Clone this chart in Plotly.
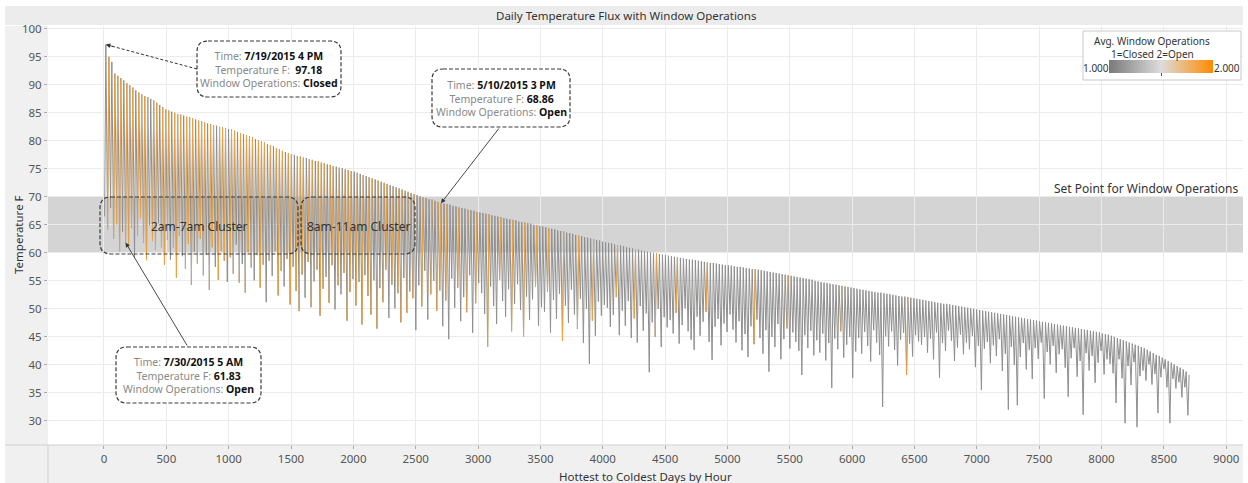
import plotly.graph_objects as go

# Daily max / min temperature (F), days sorted hottest -> coldest
daily_high = [
    97.18, 95.0, 94.1, 92.0, 91.6, 91.2, 90.8, 90.3, 89.9, 89.5, 89.0, 88.6, 88.3, 88.0, 87.8, 87.5, 87.2, 86.8, 86.4, 86.0, 85.6,
    85.4, 85.2, 85.0, 84.8, 84.7, 84.5, 84.3, 84.2, 84.0, 83.8, 83.6, 83.5, 83.3, 83.1, 83.0, 82.8, 82.7, 82.5, 82.4, 82.3, 82.1,
    82.0, 81.8, 81.6, 81.4, 81.2, 81.0, 80.8, 80.6, 80.3, 80.1, 79.9, 79.7, 79.4, 79.2, 79.0, 78.7, 78.5, 78.2, 78.0, 77.8, 77.6,
    77.5, 77.3, 77.2, 77.0, 76.9, 76.7, 76.6, 76.4, 76.3, 76.1, 76.0, 75.8, 75.7, 75.5, 75.4, 75.2, 75.1, 74.9, 74.8, 74.6, 74.5,
    74.3, 74.1, 73.9, 73.7, 73.5, 73.3, 73.1, 72.9, 72.7, 72.5, 72.3, 72.1, 71.9, 71.7, 71.5, 71.3, 71.1, 70.9, 70.7, 70.5, 70.3,
    70.1, 69.9, 69.8, 69.6, 69.5, 69.3, 69.1, 68.86, 68.8, 68.7, 68.6, 68.4, 68.3, 68.1, 68.0, 67.9, 67.7, 67.6, 67.5, 67.3, 67.2,
    67.1, 67.0, 66.9, 66.7, 66.6, 66.5, 66.4, 66.2, 66.1, 66.0, 65.9, 65.8, 65.6, 65.5, 65.4, 65.3, 65.2, 65.0, 64.9, 64.8, 64.7,
    64.6, 64.4, 64.3, 64.2, 64.0, 63.9, 63.8, 63.6, 63.5, 63.4, 63.2, 63.1, 63.0, 62.8, 62.7, 62.6, 62.4, 62.3, 62.2, 62.0, 61.9,
    61.8, 61.7, 61.5, 61.4, 61.3, 61.2, 61.0, 60.9, 60.8, 60.7, 60.6, 60.4, 60.3, 60.2, 60.1, 60.0, 59.9, 59.8, 59.7, 59.6, 59.5,
    59.4, 59.3, 59.2, 59.1, 59.0, 58.9, 58.8, 58.8, 58.7, 58.6, 58.5, 58.4, 58.3, 58.2, 58.2, 58.1, 58.0, 57.9, 57.8, 57.8, 57.7,
    57.6, 57.5, 57.5, 57.4, 57.3, 57.2, 57.1, 57.1, 57.0, 56.9, 56.8, 56.7, 56.6, 56.5, 56.4, 56.3, 56.2, 56.1, 56.0, 55.9, 55.8,
    55.7, 55.6, 55.5, 55.4, 55.3, 55.2, 55.0, 54.9, 54.8, 54.7, 54.6, 54.5, 54.4, 54.3, 54.2, 54.1, 54.0, 53.9, 53.8, 53.7, 53.6,
    53.5, 53.4, 53.3, 53.2, 53.1, 53.0, 52.9, 52.9, 52.8, 52.7, 52.6, 52.5, 52.4, 52.3, 52.2, 52.2, 52.1, 52.0, 51.9, 51.8, 51.7,
    51.6, 51.5, 51.4, 51.3, 51.2, 51.1, 51.0, 50.9, 50.9, 50.8, 50.7, 50.6, 50.5, 50.4, 50.3, 50.2, 50.1, 50.0, 49.9, 49.8, 49.7,
    49.6, 49.5, 49.4, 49.3, 49.2, 49.1, 49.0, 48.9, 48.8, 48.7, 48.6, 48.5, 48.4, 48.3, 48.2, 48.1, 48.0, 47.9, 47.8, 47.7, 47.6,
    47.5, 47.4, 47.3, 47.2, 47.1, 47.0, 46.9, 46.8, 46.7, 46.6, 46.5, 46.4, 46.3, 46.2, 46.1, 46.0, 45.9, 45.8, 45.6, 45.5, 45.4,
    45.2, 45.0, 44.8, 44.6, 44.4, 44.2, 44.0, 43.8, 43.6, 43.4, 43.2,
    43.0, 42.7, 42.4, 42.1, 41.8, 41.6, 41.3, 41.0, 40.7, 40.4,
    40.1, 39.8, 39.5, 39.2, 38.8, 38.2,
]
daily_low = [
    66.5, 64.2, 68.0, 62.5, 65.1, 60.3, 63.8, 61.83, 61.2, 64.5, 59.1, 63.0, 66.2, 61.8, 58.7, 64.9, 62.1, 60.5, 65.3, 61.0, 57.9,
    62.4, 58.8, 60.9, 55.6, 63.1, 59.4, 57.2, 61.6, 54.3, 60.2, 58.1, 62.5, 56.0, 59.7, 53.4, 61.0, 57.5, 55.2, 60.4, 58.6, 54.8,
    59.2, 56.3, 61.5, 54.7, 58.0, 52.9, 60.1, 57.4, 55.1, 59.6, 53.8, 57.9, 51.2, 58.6, 55.9, 60.3, 52.4, 56.8, 54.0, 58.9, 50.8,
    57.5, 53.2, 49.6, 56.1, 52.0, 58.4, 50.3, 54.9, 57.0, 48.8, 53.6, 55.7, 51.1, 57.8, 49.9, 54.2, 52.6, 56.4, 47.9, 53.0, 55.3,
    50.6, 54.8, 47.2, 56.0, 52.3, 49.0, 55.1, 46.5, 53.7, 51.2, 57.0, 48.4, 54.3, 50.1, 52.8, 47.6, 55.5, 49.3, 53.1, 51.9, 46.2,
    54.2, 50.4, 56.8, 48.1, 52.6, 55.0, 49.7, 53.3, 46.9, 51.5, 44.6, 55.4, 50.2, 53.8, 47.8, 52.1, 49.4, 56.0, 45.7, 51.0, 54.6,
    52.8, 49.1, 43.2, 54.0, 50.5, 47.3, 55.2, 51.4, 48.6, 53.5, 46.0, 50.9, 54.4, 49.8, 45.1, 52.2, 48.0, 51.7, 53.9, 47.0, 50.3,
    49.5, 53.0, 45.8, 51.6, 48.2, 52.7, 44.3, 50.6, 47.5, 53.4, 49.0, 46.4, 51.8, 43.9, 50.0, 40.2, 47.9, 45.2, 51.3, 48.8, 50.7,
    50.2, 46.8, 48.9, 52.1, 45.3, 49.7, 47.0, 51.4, 44.8, 48.3, 44.0, 50.5, 46.1, 49.2, 38.7, 47.6, 45.0, 50.0, 43.2, 48.5, 46.7,
    48.0, 45.6, 49.3, 43.8, 47.1, 50.1, 46.0, 44.5, 42.7, 48.6, 45.2, 47.7, 49.5, 44.1, 40.9, 46.8, 48.2, 43.5, 47.4, 45.9, 49.0,
    46.3, 44.0, 47.8, 42.6, 45.5, 41.4, 46.9, 43.7, 48.1, 44.8, 42.0, 46.2, 38.8, 45.0, 43.2, 47.3, 41.0, 44.6, 46.5, 42.9, 45.8,
    44.1, 42.5, 38.2, 45.3, 43.0, 46.1, 41.7, 44.4, 42.2, 45.6, 40.8, 43.9, 35.9, 44.7, 42.8, 46.0, 41.3, 43.6, 45.0, 37.7, 42.4,
    44.8, 42.0, 45.9, 43.4, 40.6, 46.2, 44.0, 41.8, 32.5, 45.1, 43.3, 46.0, 42.7, 39.9, 44.5, 45.7, 38.2, 43.8, 41.5, 45.3, 44.2,
    43.6, 45.0, 42.2, 44.7, 41.0, 45.8, 37.7, 43.9, 42.5, 46.1, 44.3, 40.7, 43.1, 45.4, 41.9, 44.0, 42.8, 45.2, 39.6, 43.4, 35.5,
    42.9, 44.1, 40.3, 43.5, 41.6, 44.6, 38.9, 42.0, 32.0, 43.2, 40.0, 32.8, 41.4, 43.9, 39.2, 42.7, 37.5, 43.0, 41.1, 44.0, 34.0,
    42.3, 40.1, 43.4, 38.6, 41.9, 42.8, 39.5, 34.3, 41.2, 43.0, 37.9, 40.7, 31.1, 42.1, 39.0, 41.6, 36.8, 40.4, 42.5, 38.3, 41.0,
    40.2, 38.5, 33.2, 41.0, 37.6, 29.6, 39.8, 36.4, 40.5, 28.9, 38.0,
    39.0, 37.2, 40.1, 36.5, 38.4, 31.4, 37.8, 39.3, 36.0, 29.6,
    37.5, 35.8, 36.9, 34.2, 36.0, 31.0,
]
# days (index) where windows were open during the morning rise
open_days = [
    1, 3, 4, 5, 7, 8, 9, 11, 12, 13, 14, 16, 17, 19, 20,
    21, 23, 24, 25, 27, 28, 29, 31, 32, 33, 35, 36, 38, 39, 40,
    42, 43, 45, 47, 48, 49, 51, 52, 53, 55, 57, 58, 59, 61, 62,
    64, 65, 66, 68, 69, 71, 72, 73, 75, 76, 78, 80, 81, 82,
    84, 86, 88, 89, 91, 93, 94, 96, 98, 99, 101, 103,
    106, 109, 111, 112, 114, 118, 121, 124,
    128, 132, 136, 140, 144, 148, 153, 158, 163,
    171, 177, 184, 191, 201, 217, 228, 246, 268,
]
low_hour, high_hour = 5, 15

x_ticks = list(range(0, 9001, 500))
y_ticks = list(range(30, 101, 5))

W, H = 1248, 483
L, T, R, B = 48, 26, 1243, 445
X_RANGE = [-449, 9135]
Y_RANGE = [25.7, 100.5]
FONT = "Noto Sans"


def px(x):
    return (x - L) / (R - L)


def py(y):
    return (B - y) / (B - T)


def data_to_pix(xv, yv):
    return (L + (xv - X_RANGE[0]) / (X_RANGE[1] - X_RANGE[0]) * (R - L),
            B - (yv - Y_RANGE[0]) / (Y_RANGE[1] - Y_RANGE[0]) * (B - T))


def rounded_box(x0, y0, x1, y1, r=10):
    return (f"M {px(x0 + r)},{py(y0)} L {px(x1 - r)},{py(y0)} Q {px(x1)},{py(y0)} {px(x1)},{py(y0 + r)} "
            f"L {px(x1)},{py(y1 - r)} Q {px(x1)},{py(y1)} {px(x1 - r)},{py(y1)} "
            f"L {px(x0 + r)},{py(y1)} Q {px(x0)},{py(y1)} {px(x0)},{py(y1 - r)} "
            f"L {px(x0)},{py(y0 + r)} Q {px(x0)},{py(y0)} {px(x0 + r)},{py(y0)} Z")


hours, temps = [], []
for d, (lo, hi) in enumerate(zip(daily_low, daily_high)):
    hours += [24 * d + low_hour, 24 * d + high_hour]
    temps += [lo, hi]

open_x, open_y = [], []
for d in open_days:
    open_x += [24 * d + low_hour, 24 * d + high_hour, None]
    open_y += [daily_low[d], daily_high[d], None]

fig = go.Figure()
fig.add_trace(go.Scatter(x=hours, y=temps, mode="lines",
                         line=dict(color="#8f8f8f", width=1), hoverinfo="skip"))
fig.add_trace(go.Scatter(x=open_x, y=open_y, mode="lines",
                         line=dict(color="#f2a23a", width=1), hoverinfo="skip"))
fig.add_trace(go.Scatter(
    x=[None], y=[None], mode="markers",
    marker=dict(color=[1.5], cmin=1, cmax=2, showscale=True,
                colorscale=[[0, "#7a7a7a"], [0.5, "#dcdcdc"], [1, "#ff8a00"]],
                colorbar=dict(orientation="h", x=px(1109), xanchor="left", y=py(67.5), yanchor="middle",
                              len=104, lenmode="pixels", thickness=13, thicknessmode="pixels",
                              outlinewidth=0, borderwidth=0, xpad=0, ypad=0,
                              tickvals=[1.5], ticks="outside", ticklen=3, tickcolor="#555",
                              showticklabels=False)),
    hoverinfo="skip"))

shapes = [
    dict(type="rect", xref="paper", yref="paper", x0=px(5), x1=px(1243), y0=py(6), y1=py(25),
         fillcolor="#ececec", line=dict(width=0), layer="below"),
    dict(type="rect", xref="paper", yref="paper", x0=px(5), x1=px(48), y0=py(26), y1=py(483),
         fillcolor="#f0f0f0", line=dict(width=0), layer="below"),
    dict(type="rect", xref="paper", yref="paper", x0=px(48), x1=px(1243), y0=py(445), y1=py(483),
         fillcolor="#f0f0f0", line=dict(width=0), layer="below"),
    dict(type="line", xref="paper", yref="paper", x0=px(5), x1=px(1243), y0=py(445), y1=py(445),
         line=dict(color="#cfcfcf", width=1)),
    dict(type="line", xref="paper", yref="paper", x0=px(48), x1=px(48), y0=py(445), y1=py(483),
         line=dict(color="#cfcfcf", width=1)),
    # set point band
    dict(type="rect", xref="paper", yref="y", x0=0, x1=1, y0=60, y1=70,
         fillcolor="#d4d4d4", line=dict(width=0), layer="below"),
    # colour legend frame
    dict(type="rect", xref="paper", yref="paper", x0=px(1083), x1=px(1241), y0=py(31), y1=py(80),
         fillcolor="white", line=dict(color="#c8c8c8", width=1), layer="above"),
]

box_line = dict(color="#3a3a3a", width=1.2, dash="4px,2px")
# callout boxes (pixel boxes) and cluster boxes
for (x0, y0, x1, y1, fill) in [(197, 41, 341, 97, "white"), (432, 69, 570, 127, "white"),
                               (116, 347, 261, 403, "white"),
                               (100, 197, 298, 254, "rgba(0,0,0,0)"), (301, 197, 415, 254, "rgba(0,0,0,0)")]:
    shapes.append(dict(type="path", xref="paper", yref="paper", path=rounded_box(x0, y0, x1, y1, 11),
                       fillcolor=fill, line=box_line, layer="above"))

# dashed leader for the hottest-hour callout
tip1 = data_to_pix(24 * 0 + high_hour, daily_high[0])
shapes.append(dict(type="line", xref="paper", yref="paper", x0=px(197), y0=py(69),
                   x1=px(tip1[0] + 6), y1=py(tip1[1] + 1.6), line=dict(color="#333", width=1, dash="3px,2px")))

lab = "<span style='color:#8a8a8a'>%s</span>"
callouts = [
    ((269, 69), ["Time:", "7/19/2015 4 PM"], ["Temperature F:", " 97.18"], ["Window Operations:", "Closed"]),
    ((501, 98), ["Time:", "5/10/2015 3 PM"], ["Temperature F:", "68.86"], ["Window Operations:", "Open"]),
    ((188, 375), ["Time:", "7/30/2015 5 AM"], ["Temperature F:", "61.83"], ["Window Operations:", "Open"]),
]
annotations = []
for (cx, cy), *rows in callouts:
    text = "<br>".join(f"{lab % a} <b>{b}</b>" for a, b in rows)
    annotations.append(dict(xref="paper", yref="paper", x=px(cx), y=py(cy), text=text, showarrow=False,
                            xanchor="center", yanchor="middle", align="center",
                            font=dict(size=10.5, color="#111")))

# arrows to highlighted hours
arrow = dict(showarrow=True, arrowhead=2, arrowsize=1, arrowwidth=0.9, arrowcolor="#333", text="",
             xref="x", yref="y", axref="pixel", ayref="pixel")
annotations.append(dict(arrow, x=24 * 0 + high_hour, y=daily_high[0], ax=9, ay=2.4))
t2 = data_to_pix(24 * 112 + high_hour, daily_high[112])
annotations.append(dict(arrow, x=24 * 112 + high_hour, y=daily_high[112], ax=500 - t2[0], ay=127 - t2[1]))
t3 = data_to_pix(24 * 7 + low_hour, daily_low[7])
annotations.append(dict(arrow, x=24 * 7 + low_hour, y=daily_low[7], ax=188 - t3[0], ay=347 - t3[1]))

texts = [
    (626, 16, "Daily Temperature Flux with Window Operations", 11.5, "center", 0),
    (199, 226, "2am-7am Cluster", 12, "center", 0),
    (358, 226, "8am-11am Cluster", 12, "center", 0),
    (1240, 188, "Set Point for Window Operations", 12, "right", 0),
    (1152, 41, "Avg. Window Operations", 10, "center", 0),
    (1152, 54, "1=Closed 2=Open", 10, "center", 0),
    (1096, 68, "1.000", 10, "center", 0),
    (1227, 68, "2.000", 10, "center", 0),
    (645, 476, "Hottest to Coldest Days by Hour", 11.5, "center", 0),
    (18, 235, "Temperature F", 11.5, "center", -90),
]
for x, y, t, s, anchor, ang in texts:
    annotations.append(dict(xref="paper", yref="paper", x=px(x), y=py(y), text=t, showarrow=False,
                            xanchor=anchor, yanchor="middle", textangle=ang,
                            font=dict(size=s, color="#333")))

fig.update_layout(
    width=W, height=H,
    margin=dict(l=L, r=W - R, t=T, b=H - B, pad=0, autoexpand=False),
    paper_bgcolor="white", plot_bgcolor="white", showlegend=False,
    font=dict(family=FONT, size=12, color="#444"),
    xaxis=dict(range=X_RANGE, tickvals=x_ticks, showgrid=True, gridcolor="#ebebeb", gridwidth=1,
               zeroline=False, ticks="outside", ticklen=3, tickcolor="#aaa", showline=False,
               tickfont=dict(size=11.5, color="#555")),
    yaxis=dict(range=Y_RANGE, tickvals=y_ticks, showgrid=True, gridcolor="#ebebeb", gridwidth=1,
               zeroline=False, ticks="outside", ticklen=3, tickcolor="#aaa", showline=False,
               tickfont=dict(size=11.5, color="#555")),
    shapes=shapes, annotations=annotations,
)

fig.write_html("out.html", config={"displayModeBar": False},
               post_script="document.body.style.margin='0';")
